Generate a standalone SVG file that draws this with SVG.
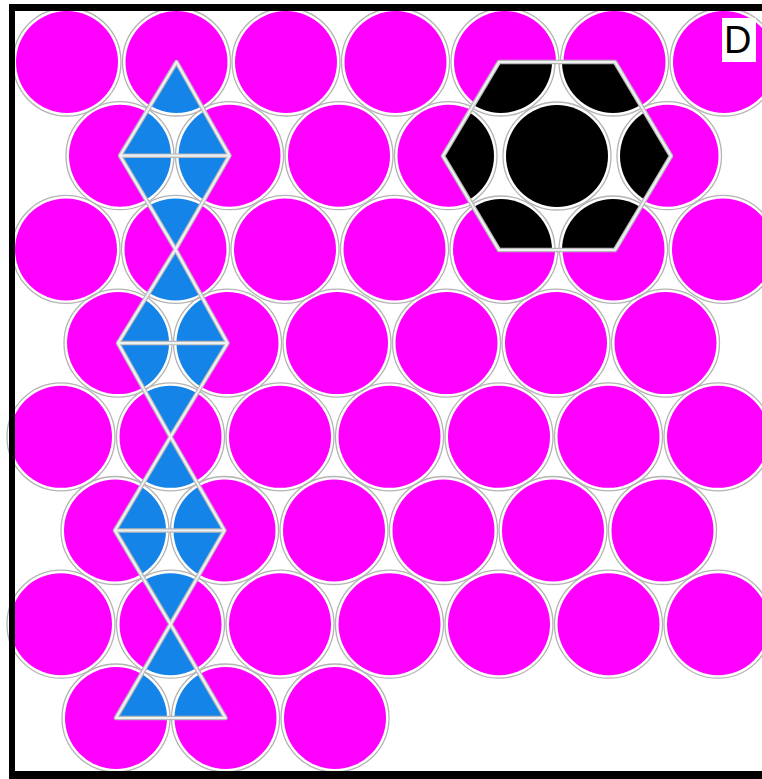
<svg xmlns="http://www.w3.org/2000/svg" xmlns:xlink="http://www.w3.org/1999/xlink" width="762" height="779" viewBox="0 0 762 779">
<style>
.ring{fill:none;stroke:#b4b4b4;stroke-width:1.3}
.mag{fill:#ff00ff}
.blu{fill:#1484e8}
.blk{fill:#000000}
.edgeO{fill:none;stroke:#b8b8b8;stroke-width:4.5;stroke-linejoin:round}
.edgeI{fill:none;stroke:#eef2f4;stroke-width:2.2;stroke-linejoin:round}
.frame{fill:#000000}
.lbl{font-family:"Liberation Sans",Arial,sans-serif;font-size:38px;fill:#000000}
</style>
<defs>
<circle id="o" r="54"/>
<circle id="f" r="51"/>
<clipPath id="triClip">
<polygon points="176.5,62 120,155.7 175.5,249.4 229.5,155.7"/>
<polygon points="175.5,249.4 118,343.1 170.5,436.8 227.5,343.1"/>
<polygon points="170.5,436.8 115,530.5 170.5,624.2 224.5,530.5"/>
<polygon points="170.5,624.2 116,718 225.5,718"/>
</clipPath>
<clipPath id="hexClip">
<polygon points="443,156 499,62 615,62 671,156 615,250 499,250"/>
</clipPath>
</defs>
<rect x="0" y="0" width="762" height="779" fill="#ffffff"/>

<g id="lattice">
<g id="rings" class="ring">
<use href="#o" x="67" y="62"/><use href="#o" x="176.5" y="62"/><use href="#o" x="286" y="62"/><use href="#o" x="395.5" y="62"/><use href="#o" x="505" y="62"/><use href="#o" x="614.5" y="62"/><use href="#o" x="724" y="62"/>
<use href="#o" x="120" y="155.7"/><use href="#o" x="229.5" y="155.7"/><use href="#o" x="339" y="155.7"/><use href="#o" x="448.5" y="155.7"/><use href="#o" x="558" y="155.7"/><use href="#o" x="667.5" y="155.7"/>
<use href="#o" x="66" y="249.4"/><use href="#o" x="175.5" y="249.4"/><use href="#o" x="285" y="249.4"/><use href="#o" x="394.5" y="249.4"/><use href="#o" x="504" y="249.4"/><use href="#o" x="613.5" y="249.4"/><use href="#o" x="723" y="249.4"/>
<use href="#o" x="118" y="343.1"/><use href="#o" x="227.5" y="343.1"/><use href="#o" x="337" y="343.1"/><use href="#o" x="446.5" y="343.1"/><use href="#o" x="556" y="343.1"/><use href="#o" x="665.5" y="343.1"/>
<use href="#o" x="61" y="436.8"/><use href="#o" x="170.5" y="436.8"/><use href="#o" x="280" y="436.8"/><use href="#o" x="389.5" y="436.8"/><use href="#o" x="499" y="436.8"/><use href="#o" x="608.5" y="436.8"/><use href="#o" x="718" y="436.8"/>
<use href="#o" x="115" y="530.5"/><use href="#o" x="224.5" y="530.5"/><use href="#o" x="334" y="530.5"/><use href="#o" x="443.5" y="530.5"/><use href="#o" x="553" y="530.5"/><use href="#o" x="662.5" y="530.5"/>
<use href="#o" x="61" y="624.2"/><use href="#o" x="170.5" y="624.2"/><use href="#o" x="280" y="624.2"/><use href="#o" x="389.5" y="624.2"/><use href="#o" x="499" y="624.2"/><use href="#o" x="608.5" y="624.2"/><use href="#o" x="718" y="624.2"/>
<use href="#o" x="116" y="718"/><use href="#o" x="225.5" y="718"/><use href="#o" x="335" y="718"/>
</g>
<g id="fills" class="mag">
<use href="#f" x="67" y="62"/><use href="#f" x="176.5" y="62"/><use href="#f" x="286" y="62"/><use href="#f" x="395.5" y="62"/><use href="#f" x="505" y="62"/><use href="#f" x="614.5" y="62"/><use href="#f" x="724" y="62"/>
<use href="#f" x="120" y="155.7"/><use href="#f" x="229.5" y="155.7"/><use href="#f" x="339" y="155.7"/><use href="#f" x="448.5" y="155.7"/><use href="#f" x="558" y="155.7"/><use href="#f" x="667.5" y="155.7"/>
<use href="#f" x="66" y="249.4"/><use href="#f" x="175.5" y="249.4"/><use href="#f" x="285" y="249.4"/><use href="#f" x="394.5" y="249.4"/><use href="#f" x="504" y="249.4"/><use href="#f" x="613.5" y="249.4"/><use href="#f" x="723" y="249.4"/>
<use href="#f" x="118" y="343.1"/><use href="#f" x="227.5" y="343.1"/><use href="#f" x="337" y="343.1"/><use href="#f" x="446.5" y="343.1"/><use href="#f" x="556" y="343.1"/><use href="#f" x="665.5" y="343.1"/>
<use href="#f" x="61" y="436.8"/><use href="#f" x="170.5" y="436.8"/><use href="#f" x="280" y="436.8"/><use href="#f" x="389.5" y="436.8"/><use href="#f" x="499" y="436.8"/><use href="#f" x="608.5" y="436.8"/><use href="#f" x="718" y="436.8"/>
<use href="#f" x="115" y="530.5"/><use href="#f" x="224.5" y="530.5"/><use href="#f" x="334" y="530.5"/><use href="#f" x="443.5" y="530.5"/><use href="#f" x="553" y="530.5"/><use href="#f" x="662.5" y="530.5"/>
<use href="#f" x="61" y="624.2"/><use href="#f" x="170.5" y="624.2"/><use href="#f" x="280" y="624.2"/><use href="#f" x="389.5" y="624.2"/><use href="#f" x="499" y="624.2"/><use href="#f" x="608.5" y="624.2"/><use href="#f" x="718" y="624.2"/>
<use href="#f" x="116" y="718"/><use href="#f" x="225.5" y="718"/><use href="#f" x="335" y="718"/>
</g>
</g>

<g id="blue-chain">
<g clip-path="url(#triClip)">
<rect x="100" y="50" width="140" height="680" fill="#ffffff"/>
<g class="ring">
<use href="#o" x="176.5" y="62"/><use href="#o" x="120" y="155.7"/><use href="#o" x="229.5" y="155.7"/><use href="#o" x="175.5" y="249.4"/><use href="#o" x="118" y="343.1"/><use href="#o" x="227.5" y="343.1"/><use href="#o" x="170.5" y="436.8"/><use href="#o" x="115" y="530.5"/><use href="#o" x="224.5" y="530.5"/><use href="#o" x="170.5" y="624.2"/><use href="#o" x="116" y="718"/><use href="#o" x="225.5" y="718"/>
</g>
<g class="blu">
<use href="#f" x="176.5" y="62"/><use href="#f" x="120" y="155.7"/><use href="#f" x="229.5" y="155.7"/><use href="#f" x="175.5" y="249.4"/><use href="#f" x="118" y="343.1"/><use href="#f" x="227.5" y="343.1"/><use href="#f" x="170.5" y="436.8"/><use href="#f" x="115" y="530.5"/><use href="#f" x="224.5" y="530.5"/><use href="#f" x="170.5" y="624.2"/><use href="#f" x="116" y="718"/><use href="#f" x="225.5" y="718"/>
</g>
</g>
<g class="edgeO">
<polygon points="176.5,62 120,155.7 175.5,249.4 229.5,155.7"/><line x1="120" y1="155.7" x2="229.5" y2="155.7"/>
<polygon points="175.5,249.4 118,343.1 170.5,436.8 227.5,343.1"/><line x1="118" y1="343.1" x2="227.5" y2="343.1"/>
<polygon points="170.5,436.8 115,530.5 170.5,624.2 224.5,530.5"/><line x1="115" y1="530.5" x2="224.5" y2="530.5"/>
<polygon points="170.5,624.2 116,718 225.5,718"/>
</g>
<g class="edgeI">
<polygon points="176.5,62 120,155.7 175.5,249.4 229.5,155.7"/><line x1="120" y1="155.7" x2="229.5" y2="155.7"/>
<polygon points="175.5,249.4 118,343.1 170.5,436.8 227.5,343.1"/><line x1="118" y1="343.1" x2="227.5" y2="343.1"/>
<polygon points="170.5,436.8 115,530.5 170.5,624.2 224.5,530.5"/><line x1="115" y1="530.5" x2="224.5" y2="530.5"/>
<polygon points="170.5,624.2 116,718 225.5,718"/>
</g>
</g>

<g id="hexagon">
<g clip-path="url(#hexClip)">
<rect x="440" y="58" width="235" height="196" fill="#ffffff"/>
<g class="ring">
<use href="#o" x="557" y="156"/><use href="#o" x="443" y="156"/><use href="#o" x="671" y="156"/><use href="#o" x="501" y="62"/><use href="#o" x="613" y="62"/><use href="#o" x="501" y="250"/><use href="#o" x="613" y="250"/>
</g>
<g class="blk">
<use href="#f" x="557" y="156"/><use href="#f" x="443" y="156"/><use href="#f" x="671" y="156"/><use href="#f" x="501" y="62"/><use href="#f" x="613" y="62"/><use href="#f" x="501" y="250"/><use href="#f" x="613" y="250"/>
</g>
</g>
<polygon class="edgeO" points="443,156 499,62 615,62 671,156 615,250 499,250"/>
<polygon class="edgeI" points="443,156 499,62 615,62 671,156 615,250 499,250"/>
</g>

<g id="frame">
<rect class="frame" x="9" y="4" width="753" height="7"/>
<rect class="frame" x="9" y="4" width="6" height="775"/>
<rect class="frame" x="9" y="771" width="753" height="8"/>
</g>

<g id="label">
<rect x="722" y="18" width="34" height="44" fill="#ffffff"/>
<text class="lbl" x="724" y="53">D</text>
</g>
</svg>
